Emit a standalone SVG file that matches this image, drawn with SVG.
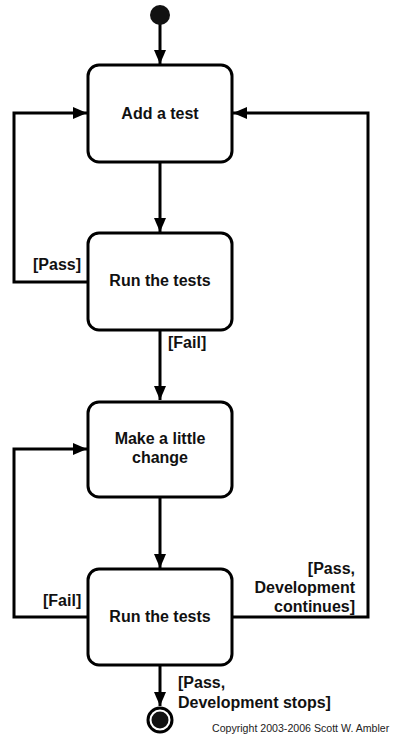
<svg xmlns="http://www.w3.org/2000/svg" width="402" height="742" viewBox="0 0 402 742">
<style>
.box{fill:#fff;stroke:#000;stroke-width:3}
.ln{fill:none;stroke:#000;stroke-width:3;stroke-linejoin:miter}
.t{font-family:"Liberation Sans",Arial,sans-serif;font-weight:bold;font-size:16px;fill:#111}
.c{text-anchor:middle}
.r{text-anchor:end}
.cp{font-family:"Liberation Sans",Arial,sans-serif;font-size:10.6px;fill:#222}
</style>
<defs>
<marker id="ah" viewBox="0 0 14 12" refX="14" refY="6" markerWidth="14" markerHeight="12" markerUnits="userSpaceOnUse" orient="auto">
<path d="M0,0 L14,6 L0,12 Z" fill="#000"/>
</marker>
</defs>
<rect width="402" height="742" fill="#fff"/>
<g id="connectors">
<path class="ln" d="M160,24 V64" marker-end="url(#ah)"/>
<path class="ln" d="M160,162 V232" marker-end="url(#ah)"/>
<path class="ln" d="M88,282 H14 V113 H87" marker-end="url(#ah)"/>
<path class="ln" d="M160,330 V400" marker-end="url(#ah)"/>
<path class="ln" d="M160,497 V568" marker-end="url(#ah)"/>
<path class="ln" d="M88,617 H14 V449 H87" marker-end="url(#ah)"/>
<path class="ln" d="M232,617 H368 V113 H233" marker-end="url(#ah)"/>
<path class="ln" d="M160,665 V706" marker-end="url(#ah)"/>
<text class="t" x="33" y="270">[Pass]</text>
<text class="t" x="168" y="348">[Fail]</text>
<text class="t" x="43" y="606">[Fail]</text>
<text class="t r" x="355" y="574">[Pass,</text>
<text class="t r" x="355" y="593">Development</text>
<text class="t r" x="355" y="612">continues]</text>
<text class="t" x="178" y="688">[Pass,</text>
<text class="t" x="178" y="708">Development stops]</text>
</g>
<g id="start"><circle cx="160" cy="15" r="10" fill="#111"/></g>
<g id="add-test">
<rect class="box" x="88" y="65" width="144" height="97" rx="11"/>
<text class="t c" x="160" y="119">Add a test</text>
</g>
<g id="run-tests-1">
<rect class="box" x="88" y="233" width="144" height="97" rx="11"/>
<text class="t c" x="160" y="286">Run the tests</text>
</g>
<g id="make-change">
<rect class="box" x="88" y="402" width="144" height="95" rx="11"/>
<text class="t c" x="160" y="444">Make a little</text>
<text class="t c" x="160" y="463">change</text>
</g>
<g id="run-tests-2">
<rect class="box" x="88" y="569" width="144" height="96" rx="11"/>
<text class="t c" x="160" y="622">Run the tests</text>
</g>
<g id="end">
<circle cx="160" cy="720" r="12" fill="#fff" stroke="#000" stroke-width="3"/>
<circle cx="160" cy="720" r="8.5" fill="#111"/>
</g>
<text class="cp" x="212" y="732">Copyright 2003-2006 Scott W. Ambler</text>
</svg>
